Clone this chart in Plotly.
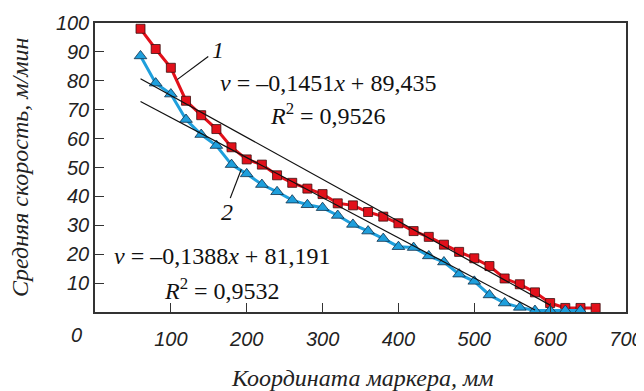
import plotly.graph_objects as go

x1 = [60, 80, 100, 120, 140, 160, 180, 200, 220, 240, 260, 280, 300, 320, 340, 360, 380, 400,
      420, 440, 460, 480, 500, 520, 540, 560, 580, 600, 620, 640, 660]
v1 = [98.0, 91.0, 84.5, 73.1, 68.1, 63.3, 57.0, 52.8, 51.0, 47.3, 44.7, 42.7, 40.8, 37.6, 36.9,
      34.6, 33.0, 30.7, 28.0, 26.0, 23.3, 20.8, 18.6, 15.9, 11.6, 9.6, 6.8, 3.1, 1.4, 1.4, 1.4]
x2 = [60, 80, 100, 120, 140, 160, 180, 200, 220, 240, 260, 280, 300, 320, 340, 360, 380, 400,
      420, 440, 460, 480, 500, 520, 540, 560, 580, 600, 620, 640]
v2 = [88.6, 79.2, 75.4, 66.6, 61.4, 57.6, 51.0, 47.8, 44.1, 41.6, 38.7, 37.1, 36.1, 33.4, 30.3,
      28.0, 25.4, 22.6, 22.3, 19.4, 17.3, 13.1, 10.6, 5.9, 3.1, 1.6, 0.5, 0.5, 0.5, 0.5]

fit1 = (-0.1451, 89.435)
fit1_x = [60, 600]
fit2 = (-0.1388, 81.191)
fit2_x = [60, 580]

xticks = [0, 100, 200, 300, 400, 500, 600, 700]
yticks = [10, 20, 30, 40, 50, 60, 70, 80, 90, 100]

RED = "#e2101a"
BLUE = "#1e9fdc"
INK = "#111111"

fig = go.Figure()
fig.add_trace(go.Scatter(x=x1, y=v1, mode="lines+markers",
                         line=dict(color=RED, width=3),
                         marker=dict(symbol="square", size=9, color=RED,
                                     line=dict(color="#3a1010", width=0.8))))
fig.add_trace(go.Scatter(x=x2, y=v2, mode="lines+markers",
                         line=dict(color=BLUE, width=3),
                         marker=dict(symbol="triangle-up", size=11, color=BLUE,
                                     line=dict(color="#10304a", width=0.8))))
for (k, b), xs in ((fit1, fit1_x), (fit2, fit2_x)):
    fig.add_trace(go.Scatter(x=xs, y=[k * xx + b for xx in xs], mode="lines",
                             line=dict(color=INK, width=1.2)))

serif = "Liberation Serif"
sans = "Liberation Sans"
annotations = []
for x, y, t in [
    (307, 79.3, "<i>v</i> = –0,1451<i>x</i> + 89,435"),
    (307, 68.6, "<i>R</i><sup>2</sup> = 0,9526"),
    (167, 19.5, "<i>v</i> = –0,1388<i>x</i> + 81,191"),
    (167, 8.0, "<i>R</i><sup>2</sup> = 0,9532"),
    (162, 90.6, "<i>1</i>"),
    (174, 34.7, "<i>2</i>"),
]:
    annotations.append(dict(x=x, y=y, xref="x", yref="y", text=t, showarrow=False,
                            font=dict(family=serif, size=24, color=INK),
                            xanchor="center", yanchor="middle"))
annotations.append(dict(x=-0.034, y=-0.08, xref="paper", yref="paper",
                        text="<i>0</i>", showarrow=False,
                        font=dict(family=sans, size=20, color="#222222"),
                        xanchor="center", yanchor="middle"))
annotations.append(dict(x=0.503, y=-0.228, xref="paper", yref="paper",
                        text="<i>Координата маркера, мм</i>", showarrow=False,
                        font=dict(family=serif, size=24, color="#222222"),
                        xanchor="center", yanchor="middle"))
annotations.append(dict(x=-0.141, y=0.502, xref="paper", yref="paper", textangle=-90,
                        text="<i>Средняя скорость, м/мин</i>", showarrow=False,
                        font=dict(family=serif, size=24, color="#222222"),
                        xanchor="center", yanchor="middle"))

shapes = [
    dict(type="line", xref="x", yref="y", x0=149.3, y0=88.4, x1=108.3, y1=80.4,
         line=dict(color=INK, width=1.2)),
    dict(type="line", xref="x", yref="y", x0=192.9, y0=49.4, x1=178.3, y1=39.4,
         line=dict(color=INK, width=1.2)),
]

# the page body has an 8px margin, so the figure is sized and offset to fit the window
fig.update_layout(
    width=636, height=383,
    margin=dict(l=87, r=18, t=15, b=79),
    paper_bgcolor="white", plot_bgcolor="white",
    showlegend=False,
    annotations=annotations,
    shapes=shapes,
    xaxis=dict(range=[0, 700], tickvals=xticks,
               ticktext=["", "<i>100</i>", "<i>200</i>", "<i>300</i>", "<i>400</i>",
                         "<i>500</i>", "<i>600</i>", "<i>700</i>"],
               ticks="inside", ticklen=9, tickwidth=1.2, tickcolor="#333333",
               showgrid=False, zeroline=False, showline=True, linecolor="#333333",
               linewidth=1.5, mirror=True, automargin=False, ticklabelstandoff=8,
               tickfont=dict(family=sans, size=20, color="#222222")),
    yaxis=dict(range=[0, 100], tickvals=yticks,
               ticktext=[f"<i>{t}</i>" for t in yticks],
               ticks="inside", ticklen=9, tickwidth=1.2, tickcolor="#333333",
               showgrid=False, zeroline=False, showline=True, linecolor="#333333",
               linewidth=1.5, mirror=True, automargin=False,
               tickfont=dict(family=sans, size=20, color="#222222")),
)

fig.write_html("out.html")
